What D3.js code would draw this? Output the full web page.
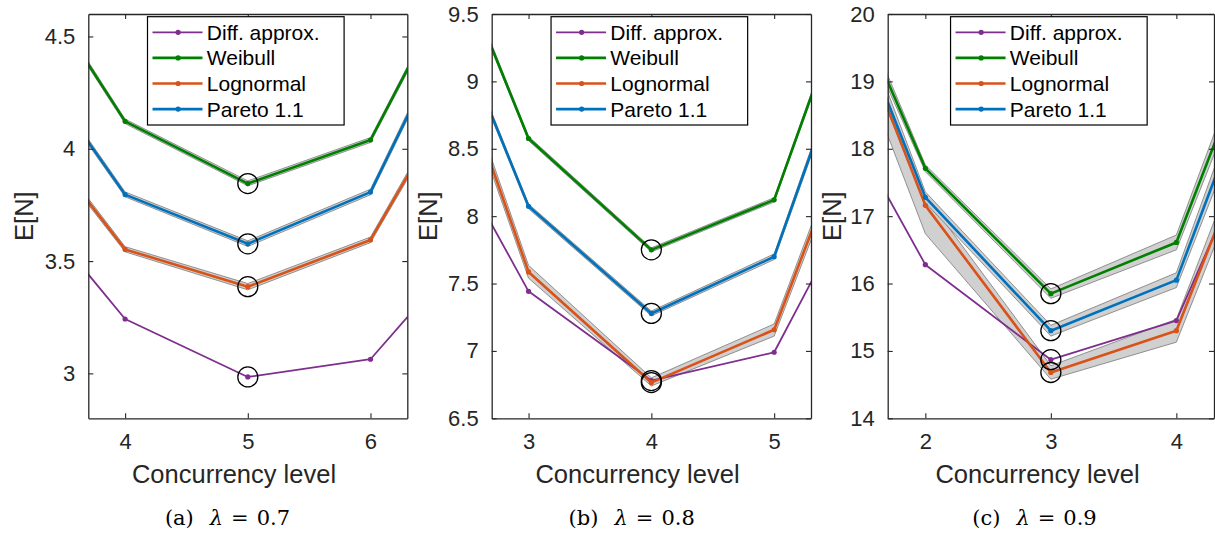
<!DOCTYPE html>
<html><head><meta charset="utf-8">
<script src="https://cdn.jsdelivr.net/npm/d3@7"></script>
<style>body{margin:0;background:#fff}svg{display:block}</style>
</head><body>
<svg id="chart" width="1215" height="534"></svg>
<script>
// ---------- data ----------
const seriesNames = ["Diff. approx.", "Weibull", "Lognormal", "Pareto 1.1"];
const seriesColors = ["#7E2F8E", "#008000", "#D95319", "#0072BD"];
const captionLetters = ["(a)", "(b)", "(c)"];
const captionLambdas = ["0.7", "0.8", "0.9"];
const xLabel = "Concurrency level";
const yLabel = "E[N]";

// panel (a) lambda = 0.7
const levelsA = [3, 4, 5, 6, 7];
const diffA = [3.905, 3.242, 2.984, 3.063, 3.686];
const weibullA = [4.969, 4.122, 3.845, 4.039, 5.086];
const weibullLoA = [4.955, 4.112, 3.835, 4.028, 5.070];
const weibullHiA = [4.983, 4.132, 3.857, 4.050, 5.100];
const lognormalA = [4.259, 3.552, 3.386, 3.594, 4.540];
const lognormalLoA = [4.240, 3.541, 3.372, 3.582, 4.520];
const lognormalHiA = [4.280, 3.564, 3.400, 3.607, 4.560];
const paretoA = [4.576, 3.796, 3.577, 3.807, 4.930];
const paretoLoA = [4.560, 3.786, 3.565, 3.795, 4.910];
const paretoHiA = [4.590, 3.808, 3.590, 3.820, 4.950];
const optimalA = 5;
const xTicksA = [4, 5, 6];
const yTicksA = [3, 3.5, 4, 4.5];

// panel (b) lambda = 0.8
const levelsB = [2, 3, 4, 5, 6];
const diffB = [9.10, 7.442, 6.780, 6.990, 8.720];
const weibullB = [10.83, 8.576, 7.750, 8.121, 10.67];
const weibullLoB = [10.80, 8.560, 7.735, 8.105, 10.64];
const weibullHiB = [10.86, 8.592, 7.765, 8.137, 10.70];
const lognormalB = [10.20, 7.586, 6.765, 7.157, 9.55];
const lognormalLoB = [10.14, 7.540, 6.740, 7.110, 9.48];
const lognormalHiB = [10.26, 7.635, 6.800, 7.200, 9.62];
const paretoB = [10.32, 8.073, 7.278, 7.699, 10.27];
const paretoLoB = [10.29, 8.055, 7.260, 7.678, 10.23];
const paretoHiB = [10.35, 8.090, 7.296, 7.720, 10.31];
const optimalB = 4;
const xTicksB = [3, 4, 5];
const yTicksB = [6.5, 7, 7.5, 8, 8.5, 9, 9.5];

// panel (c) lambda = 0.9
const levelsC = [1, 2, 3, 4, 5];
const diffC = [19.65, 16.28, 14.87, 15.45, 19.68];
const weibullC = [22.00, 17.71, 15.85, 16.61, 21.44];
const weibullLoC = [21.80, 17.66, 15.78, 16.50, 21.20];
const weibullHiC = [22.20, 17.76, 15.92, 16.72, 21.70];
const lognormalC = [21.96, 17.16, 14.68, 15.30, 20.03];
const lognormalLoC = [21.60, 16.74, 14.58, 15.13, 19.80];
const lognormalHiC = [22.10, 17.30, 14.78, 15.47, 20.30];
const paretoC = [22.00, 17.28, 15.30, 16.05, 20.98];
const paretoLoC = [21.70, 17.20, 15.22, 15.94, 20.70];
const paretoHiC = [22.30, 17.36, 15.38, 16.16, 21.30];
const optimalC = 3;
const xTicksC = [2, 3, 4];
const yTicksC = [14, 15, 16, 17, 18, 19, 20];

const xDomains = [[3.7, 6.3], [2.7, 5.3], [1.7, 4.3]];
const yDomains = [[2.8, 4.6], [6.5, 9.5], [14, 20]];

// ---------- layout ----------
const layout = [
  {left: 88.3, right: 407.3, xlab: 234, cap: 227.5, ylabX: 33.3},
  {left: 491.7, right: 811, xlab: 637.5, cap: 631.7, ylabX: 437.3},
  {left: 887.7, right: 1214, xlab: 1037.5, cap: 1034.5, ylabX: 840.7}
];
const plotTop = 14, plotBottom = 418.3;
const axisColor = "#262626";
const font = "'Liberation Sans', Arial, Helvetica, sans-serif";

const panels = [
  {levels: levelsA, series: [diffA, weibullA, lognormalA, paretoA],
   bands: [null, [weibullLoA, weibullHiA], [lognormalLoA, lognormalHiA], [paretoLoA, paretoHiA]],
   optimal: optimalA, xTicks: xTicksA, yTicks: yTicksA},
  {levels: levelsB, series: [diffB, weibullB, lognormalB, paretoB],
   bands: [null, [weibullLoB, weibullHiB], [lognormalLoB, lognormalHiB], [paretoLoB, paretoHiB]],
   optimal: optimalB, xTicks: xTicksB, yTicks: yTicksB},
  {levels: levelsC, series: [diffC, weibullC, lognormalC, paretoC],
   bands: [null, [weibullLoC, weibullHiC], [lognormalLoC, lognormalHiC], [paretoLoC, paretoHiC]],
   optimal: optimalC, xTicks: xTicksC, yTicks: yTicksC}
];

const svg = d3.select("#chart");
const lineWidths = [1.8, 2.6, 2.6, 2.6];

panels.forEach((p, i) => {
  const L = layout[i];
  const x = d3.scaleLinear().domain(xDomains[i]).range([L.left, L.right]);
  const y = d3.scaleLinear().domain(yDomains[i]).range([plotBottom, plotTop]);
  const g = svg.append("g");
  const clipId = "clip" + i;
  svg.append("defs").append("clipPath").attr("id", clipId)
    .append("rect").attr("x", L.left).attr("y", plotTop)
    .attr("width", L.right - L.left).attr("height", plotBottom - plotTop);

  const plot = g.append("g").attr("clip-path", `url(#${clipId})`);

  // bands
  p.bands.forEach((b, k) => {
    if (!b) return;
    const pts = p.levels.map((lv, j) => ({x: lv, lo: b[0][j], hi: b[1][j]}));
    plot.append("path").datum(pts)
      .attr("d", d3.area().x(d => x(d.x)).y0(d => y(d.lo)).y1(d => y(d.hi)))
      .attr("fill", "#d0d0d0").attr("stroke", "#7a7a7a").attr("stroke-width", 0.8);
  });

  // lines + markers
  p.series.forEach((s, k) => {
    const pts = p.levels.map((lv, j) => ({x: lv, y: s[j]}));
    plot.append("path").datum(pts)
      .attr("d", d3.line().x(d => x(d.x)).y(d => y(d.y)))
      .attr("fill", "none").attr("stroke", seriesColors[k])
      .attr("stroke-width", lineWidths[k]).attr("stroke-linejoin", "round");
    plot.selectAll(null).data(pts).enter().append("circle")
      .attr("cx", d => x(d.x)).attr("cy", d => y(d.y)).attr("r", 2.6)
      .attr("fill", seriesColors[k]);
  });

  // optimum circles
  const oi = p.levels.indexOf(p.optimal);
  p.series.forEach((s, k) => {
    plot.append("circle").attr("cx", x(p.optimal)).attr("cy", y(s[oi]))
      .attr("r", 10).attr("fill", "none").attr("stroke", "#000").attr("stroke-width", 1.3);
  });

  // axes
  const styleAxis = a => {
    a.selectAll("path.domain").attr("stroke", axisColor).attr("stroke-width", 1.3);
    a.selectAll(".tick line").attr("stroke", axisColor).attr("stroke-width", 1.1);
    a.selectAll("text").attr("fill", axisColor).attr("font-family", font).attr("font-size", 22);
  };
  const ax = g.append("g").attr("transform", `translate(0,${plotBottom})`)
    .call(d3.axisBottom(x).tickValues(p.xTicks).tickSize(-5).tickSizeOuter(0).tickPadding(15).tickFormat(d3.format("")));
  styleAxis(ax);
  const axT = g.append("g").attr("transform", `translate(0,${plotTop})`)
    .call(d3.axisTop(x).tickValues(p.xTicks).tickSize(-5).tickSizeOuter(0).tickFormat(""));
  styleAxis(axT);
  const ay = g.append("g").attr("transform", `translate(${L.left},0)`)
    .call(d3.axisLeft(y).tickValues(p.yTicks).tickSize(-5).tickSizeOuter(0).tickPadding(13).tickFormat(d3.format("")));
  styleAxis(ay);
  const ayR = g.append("g").attr("transform", `translate(${L.right},0)`)
    .call(d3.axisRight(y).tickValues(p.yTicks).tickSize(-5).tickSizeOuter(0).tickFormat(""));
  styleAxis(ayR);

  // axis labels
  g.append("text").attr("x", L.xlab).attr("y", 483).attr("text-anchor", "middle")
    .attr("font-family", font).attr("font-size", 25.5).attr("fill", axisColor).text(xLabel);
  g.append("text").attr("transform", `translate(${L.ylabX},${(plotTop + plotBottom) / 2}) rotate(-90)`)
    .attr("text-anchor", "middle").attr("font-family", font).attr("font-size", 25.5)
    .attr("fill", axisColor).text(yLabel);

  // legend
  const lw = 196.6, lh = 108.3;
  const lx = (L.left + L.right) / 2 - 2 - lw / 2, ly = 16.7;
  const lg = g.append("g").attr("transform", `translate(${lx},${ly})`);
  lg.append("rect").attr("width", lw).attr("height", lh).attr("fill", "#fff")
    .attr("stroke", "#000").attr("stroke-width", 1.2);
  seriesNames.forEach((n, k) => {
    const ry = 15.6 + k * 25.6;
    lg.append("line").attr("x1", 5).attr("x2", 55).attr("y1", ry).attr("y2", ry)
      .attr("stroke", seriesColors[k]).attr("stroke-width", lineWidths[k]);
    lg.append("circle").attr("cx", 30.6).attr("cy", ry).attr("r", 2.6).attr("fill", seriesColors[k]);
    lg.append("text").attr("x", 59.3).attr("y", ry).attr("dy", "0.36em")
      .attr("font-family", font).attr("font-size", 21).attr("fill", "#000").text(n);
  });

  // caption
  const cap = svg.append("text").attr("x", L.cap).attr("y", 525).attr("text-anchor", "middle")
    .attr("font-family", "'DejaVu Serif', 'Liberation Serif', serif").attr("font-size", 21).attr("fill", "#000");
  cap.append("tspan").text(captionLetters[i]);
  cap.append("tspan").attr("dx", 16).attr("font-style", "italic").text("λ");
  cap.append("tspan").attr("dx", 8).text("=");
  cap.append("tspan").attr("dx", 8).text(captionLambdas[i]);
});
</script>
</body></html>
